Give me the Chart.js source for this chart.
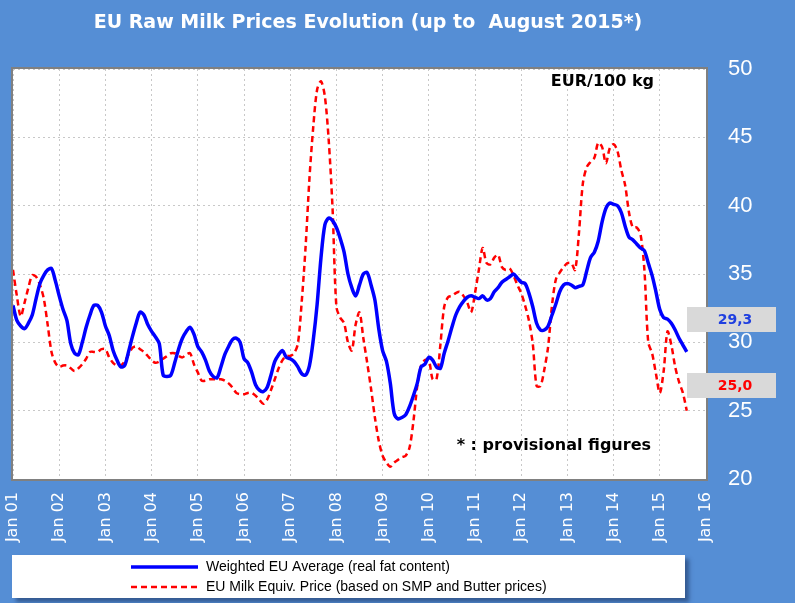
<!DOCTYPE html>
<html>
<head>
<meta charset="utf-8">
<title>EU Raw Milk Prices Evolution</title>
<style>
  html, body { margin: 0; padding: 0; background: #558ed5; }
  canvas { display: block; }
</style>
</head>
<body>
<canvas id="milkChart" width="795" height="603"></canvas>
<script src="https://cdn.jsdelivr.net/npm/chart.js@4.4.0/dist/chart.umd.min.js"></script>
<script>
// x ticks every 12 months starting Jan 2001
const yearTicks = [
  "Jan 01", "Jan 02", "Jan 03", "Jan 04", "Jan 05", "Jan 06", "Jan 07", "Jan 08",
  "Jan 09", "Jan 10", "Jan 11", "Jan 12", "Jan 13", "Jan 14", "Jan 15", "Jan 16",
];

const seriesNames = [
  "Weighted EU Average (real fat content)",
  "EU Milk Equiv. Price (based on SMP and Butter prices)",
];

// monthly EUR/100 kg, Jan 2001 -> Aug 2015 (one row per year)
const weightedAvg = [
  32.7, 31.6, 31.2, 31.0, 31.4, 32.0, 33.2, 34.3, 34.9, 35.3, 35.4, 34.5,
  33.4, 32.4, 31.6, 29.9, 29.2, 29.1, 30.0, 31.1, 32.0, 32.7, 32.7, 32.2,
  31.2, 30.5, 29.4, 28.7, 28.2, 28.3, 29.3, 30.4, 31.4, 32.2, 32.0, 31.3,
  30.8, 30.4, 29.9, 27.6, 27.5, 27.6, 28.5, 29.5, 30.3, 30.8, 31.1, 30.6,
  29.7, 29.3, 28.7, 27.9, 27.5, 27.4, 28.2, 29.1, 29.7, 30.2, 30.3, 30.0,
  28.8, 28.5, 27.8, 26.9, 26.5, 26.4, 26.7, 27.6, 28.6, 29.1, 29.4, 28.9,
  28.8, 28.6, 28.2, 27.7, 27.6, 28.3, 30.2, 32.8, 36.2, 38.6, 39.1, 38.9,
  38.4, 37.6, 36.6, 35.0, 34.0, 33.4, 34.2, 35.0, 35.1, 34.2, 33.1, 31.0,
  29.4, 28.6, 27.0, 24.8, 24.4, 24.5, 24.7, 25.3, 26.1, 27.0, 28.2, 28.4,
  28.9, 28.7, 28.2, 28.1, 29.2, 30.1, 31.1, 32.0, 32.6, 33.0, 33.3, 33.4,
  33.3, 33.2, 33.4, 33.1, 33.2, 33.7, 34.0, 34.4, 34.6, 34.8, 35.0, 34.7,
  34.4, 34.3, 33.6, 32.6, 31.4, 30.9, 30.9, 31.2, 32.0, 32.8, 33.7, 34.2,
  34.3, 34.2, 34.0, 34.1, 34.2, 35.2, 36.2, 36.6, 37.4, 38.8, 39.8, 40.2,
  40.1, 40.0, 39.5, 38.5, 37.7, 37.5, 37.2, 36.9, 36.7, 35.8, 34.9, 33.7,
  32.4, 31.8, 31.7, 31.4, 30.9, 30.3, 29.8, 29.3,
];

const milkEquiv = [
  35.3, 33.4, 31.9, 32.9, 34.0, 34.9, 34.8, 34.2, 33.2, 31.3, 29.3, 28.5,
  28.2, 28.3, 28.3, 28.1, 27.9, 28.1, 28.4, 28.8, 29.3, 29.3, 29.3, 29.5,
  29.5, 28.9, 28.5, 28.3, 28.3, 28.6, 29.1, 29.6, 29.7, 29.5, 29.3, 29.0,
  28.7, 28.5, 28.6, 28.8, 29.0, 29.2, 29.2, 29.0, 28.9, 29.1, 29.2, 28.4,
  27.8, 27.2, 27.2, 27.3, 27.3, 27.3, 27.3, 27.2, 27.0, 26.7, 26.3, 26.2,
  26.2, 26.3, 26.3, 26.1, 25.8, 25.5, 25.8, 26.5, 27.3, 28.1, 28.7, 29.0,
  29.0, 29.2, 29.9, 33.0, 37.0, 42.0, 45.8, 48.5, 49.1, 48.0, 44.8, 39.8,
  32.6, 31.8, 31.4, 30.0, 29.4, 31.3, 32.2, 30.3, 28.5, 26.6, 24.5, 22.8,
  21.7, 21.2, 20.9, 21.2, 21.4, 21.6, 21.7, 22.3, 24.2, 26.8, 28.3, 28.7,
  28.7, 27.3, 27.3, 29.8, 32.6, 33.3, 33.4, 33.6, 33.7, 33.4, 32.9, 32.2,
  33.6, 35.3, 36.9, 35.8, 35.7, 36.2, 36.4, 35.5, 35.3, 35.4, 34.9, 34.2,
  33.6, 32.7, 31.6, 29.9, 26.8, 26.8, 28.0, 29.7, 32.7, 34.6, 35.1, 35.5,
  35.8, 35.8, 35.3, 38.0, 41.6, 42.8, 43.2, 43.5, 44.6, 44.3, 43.1, 44.2,
  44.5, 44.0, 42.6, 41.5, 39.5, 38.4, 38.4, 37.9, 35.3, 30.0, 29.2, 27.7,
  26.3, 27.9, 30.8, 29.8, 28.2, 27.1, 26.3, 25.0,
];

const BG = "#558ed5";
const BLUE = "#0000ff";
const RED = "#ff0000";

const toPoints = (values) => values.map((v, i) => ({ x: i, y: v }));
const fmt = (v) => v.toFixed(1).replace(".", ",");

// background, white plot area, frame, notes, value boxes and legend
const decor = {
  id: "decor",
  beforeDraw(chart) {
    const { ctx, chartArea: a } = chart;
    ctx.save();
    ctx.fillStyle = BG;
    ctx.fillRect(0, 0, chart.width, chart.height);
    ctx.fillStyle = "#fff";
    ctx.fillRect(a.left, a.top, a.right - a.left, a.bottom - a.top);
    ctx.restore();
  },
  beforeDatasetsDraw(chart) {
    const { ctx, chartArea: a } = chart;
    ctx.save();
    ctx.strokeStyle = "#808080";
    ctx.lineWidth = 2;
    ctx.strokeRect(a.left - 1, a.top - 1, a.right - a.left + 2, a.bottom - a.top + 2);
    ctx.restore();
  },
  afterDraw(chart) {
    const { ctx } = chart;
    ctx.save();

    // title
    ctx.fillStyle = "#fff";
    ctx.font = 'bold 19px "DejaVu Sans"';
    ctx.textAlign = "center";
    ctx.textBaseline = "middle";
    ctx.fillText("EU Raw Milk Prices Evolution (up to  August 2015*)", 368, 23);

    // notes inside the plot
    ctx.fillStyle = "#000";
    ctx.font = 'bold 16px "DejaVu Sans"';
    ctx.textAlign = "right";
    ctx.fillText("EUR/100 kg", 654, 82);
    ctx.fillText("* : provisional figures", 651, 446);

    // last value boxes
    const boxes = [
      { text: fmt(weightedAvg[weightedAvg.length - 1]), color: "#1f3fe0", y: 307 },
      { text: fmt(milkEquiv[milkEquiv.length - 1]), color: RED, y: 373 },
    ];
    boxes.forEach((b) => {
      ctx.fillStyle = "#d9d9d9";
      ctx.fillRect(687, b.y, 89, 25);
      ctx.fillStyle = b.color;
      ctx.font = 'bold 14px "DejaVu Sans"';
      ctx.textAlign = "center";
      ctx.fillText(b.text, 735, b.y + 13);
    });

    // legend box
    ctx.save();
    ctx.shadowColor = "rgba(20,40,80,0.5)";
    ctx.shadowOffsetX = 4;
    ctx.shadowOffsetY = 4;
    ctx.shadowBlur = 4;
    ctx.fillStyle = "#fff";
    ctx.fillRect(12, 555, 673, 43);
    ctx.restore();

    const rows = [
      { color: BLUE, dash: [], width: 3.5, y: 567 },
      { color: RED, dash: [6, 4], width: 2.5, y: 587 },
    ];
    rows.forEach((r, i) => {
      ctx.strokeStyle = r.color;
      ctx.lineWidth = r.width;
      ctx.setLineDash(r.dash);
      ctx.beginPath();
      ctx.moveTo(131, r.y);
      ctx.lineTo(198, r.y);
      ctx.stroke();
      ctx.setLineDash([]);
      ctx.fillStyle = "#000";
      ctx.font = '14px "Liberation Sans"';
      ctx.textAlign = "left";
      ctx.fillText(seriesNames[i], 206, r.y);
    });

    ctx.restore();
  },
};

new Chart(document.getElementById("milkChart"), {
  type: "line",
  data: {
    datasets: [
      {
        label: seriesNames[0],
        data: toPoints(weightedAvg),
        borderColor: BLUE,
        borderWidth: 3.5,
        pointRadius: 0,
        tension: 0.3,
        fill: false,
      },
      {
        label: seriesNames[1],
        data: toPoints(milkEquiv),
        borderColor: RED,
        borderWidth: 2.5,
        borderDash: [6, 4],
        pointRadius: 0,
        tension: 0.3,
        fill: false,
      },
    ],
  },
  options: {
    responsive: false,
    animation: false,
    layout: { padding: { top: 69, left: 11, right: 0, bottom: 0 } },
    plugins: {
      legend: { display: false },
      tooltip: { enabled: false },
      title: { display: false },
    },
    scales: {
      x: {
        type: "linear",
        min: 0,
        max: (yearTicks.length - 1) * 12,
        afterFit: (scale) => { scale.height = 124; },
        grid: { color: "#c8c8c8", drawTicks: false },
        border: { display: false, dash: [2, 3] },
        ticks: {
          stepSize: 12,
          autoSkip: false,
          maxRotation: 90,
          minRotation: 90,
          padding: 13,
          color: "#fff",
          font: { family: "DejaVu Sans", size: 16 },
          callback: (v) => yearTicks[v / 12],
        },
      },
      y: {
        position: "right",
        min: 20,
        max: 50,
        afterFit: (scale) => { scale.width = 89; },
        grid: { color: "#c8c8c8", drawTicks: false },
        border: { display: false, dash: [2, 3] },
        ticks: {
          stepSize: 5,
          padding: 22,
          color: "#fff",
          font: { family: "Liberation Sans", size: 22 },
        },
      },
    },
  },
  plugins: [decor],
});
</script>
</body>
</html>
